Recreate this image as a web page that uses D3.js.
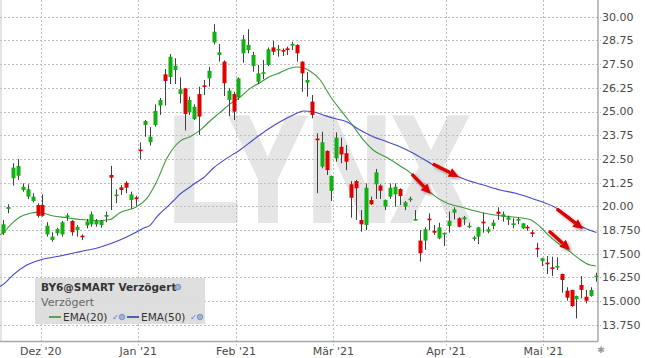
<!DOCTYPE html>
<html>
<head>
<meta charset="utf-8">
<script src="https://cdn.jsdelivr.net/npm/d3@7"></script>
<style>
  body { margin: 0; background: #fff; }
  svg { display: block; font-family: "DejaVu Sans", Verdana, sans-serif; }
</style>
</head>
<body>
<div id="chart"></div>
<script>
// daily candles (index 0 = first candle on the left)
const opens = [18.58, 19.86, 21.48, 21.61, 20.86, 20.51, 20.28, 20.07, 20.07, 18.52,
  18.22, 18.58, 18.52, 19.48, 19.23, 18.75, 18.45, 18.99, 19.05, 19.05,
  19.01, 19.45, 21.65, 20.58, 21.0, 21.24, 20.33, 20.47, 22.99, 24.29,
  23.38, 24.29, 25.31, 26.96, 26.82, 27.19, 25.92, 26.22, 24.96, 24.6,
  25.92, 26.38, 26.75, 28.64, 27.98, 27.63, 25.61, 25.92, 25.75, 28.07,
  28.24, 27.4, 26.57, 27.02, 27.45, 28.38, 28.26, 28.24, 28.33, 28.52,
  28.51, 27.63, 26.52, 25.52, 23.57, 22.09, 22.92, 20.81, 22.53, 23.14,
  22.8, 21.16, 21.33, 19.28, 19.01, 20.33, 21.16, 21.09, 19.98, 20.51,
  20.63, 20.91, 19.98, 20.37, 19.29, 18.19, 18.19, 19.35, 18.7, 18.31,
  18.56, 18.96, 19.66, 19.37, 19.31, 18.94, 18.32, 18.4, 19.19, 18.66,
  18.96, 19.72, 19.45, 19.29, 19.01, 19.24, 18.84, 18.92, 18.63, 17.81,
  17.12, 17.03, 16.78, 16.78, 16.43, 15.55, 15.59, 15.1, 15.85, 15.23,
  15.27, 16.3];
const highs = [19.28, 20.11, 22.27, 22.49, 21.21, 21.16, 20.69, 20.16, 20.63, 19.16,
  18.63, 18.87, 19.23, 19.63, 19.28, 19.01, 18.52, 19.33, 19.72, 19.33,
  19.28, 19.72, 22.13, 20.9, 21.12, 21.33, 20.77, 20.56, 23.37, 24.55,
  24.18, 25.38, 25.71, 27.24, 28.03, 27.81, 26.8, 26.24, 25.78, 25.38,
  26.31, 26.66, 27.36, 29.61, 28.56, 27.7, 26.22, 26.04, 26.8, 29.03,
  29.34, 28.15, 27.45, 27.72, 28.38, 28.73, 28.51, 28.33, 28.42, 28.68,
  28.55, 27.65, 27.08, 25.87, 23.85, 23.93, 22.95, 21.62, 23.9, 23.62,
  23.23, 21.33, 21.39, 19.8, 21.21, 20.51, 21.97, 21.16, 20.36, 21.21,
  21.21, 20.95, 20.28, 20.51, 19.8, 18.75, 18.89, 19.63, 19.01, 19.13,
  18.62, 19.72, 19.95, 19.42, 19.49, 19.13, 18.43, 18.92, 19.66, 18.92,
  19.28, 19.95, 19.72, 19.51, 19.37, 19.42, 19.12, 19.01, 18.75, 18.08,
  17.28, 17.38, 17.34, 17.31, 16.45, 15.73, 15.6, 15.29, 16.32, 15.59,
  15.73, 16.5];
const lows = [18.49, 19.63, 21.09, 21.39, 20.77, 20.38, 20.21, 19.4, 19.45, 18.4,
  18.13, 18.45, 18.4, 19.23, 18.45, 18.4, 18.22, 18.84, 18.92, 18.92,
  18.87, 19.16, 19.8, 20.16, 20.6, 20.69, 19.86, 20.03, 22.49, 23.67,
  23.2, 24.2, 24.82, 25.31, 26.45, 26.45, 25.43, 24.0, 24.82, 24.55,
  23.76, 25.87, 26.31, 28.53, 27.63, 25.82, 24.76, 24.55, 25.61, 27.57,
  28.07, 27.1, 26.45, 26.7, 27.4, 27.98, 27.89, 27.93, 27.98, 28.24,
  27.63, 26.04, 25.78, 24.64, 20.69, 22.0, 21.65, 20.28, 22.35, 22.27,
  21.91, 19.4, 19.28, 18.66, 18.75, 20.07, 20.39, 20.39, 19.8, 20.39,
  19.98, 20.07, 19.8, 20.24, 19.24, 17.08, 17.7, 18.75, 18.49, 18.26,
  17.91, 18.61, 19.31, 18.89, 19.01, 18.84, 18.18, 18.01, 18.61, 18.58,
  18.79, 19.28, 19.19, 19.01, 18.84, 19.06, 18.79, 18.71, 18.37, 17.31,
  16.85, 16.43, 16.32, 16.64, 15.44, 15.02, 14.7, 14.09, 15.15, 14.88,
  15.23, 16.02];
const closes = [19.05, 19.96, 22.04, 22.13, 21.03, 20.9, 20.51, 19.5, 19.5, 18.98,
  18.4, 18.8, 19.16, 19.52, 18.63, 18.92, 18.37, 19.2, 19.58, 19.23,
  19.23, 19.54, 21.51, 20.62, 20.86, 20.98, 20.63, 20.37, 22.95, 24.5,
  23.67, 25.03, 25.61, 26.61, 27.89, 27.42, 26.17, 24.87, 25.61, 25.25,
  24.73, 26.34, 27.15, 29.21, 28.12, 26.49, 26.1, 24.99, 26.75, 28.81,
  28.51, 27.98, 27.01, 27.07, 28.28, 28.15, 28.3, 28.18, 28.24, 28.56,
  28.07, 27.01, 26.66, 24.82, 23.53, 23.38, 21.91, 21.6, 23.62, 22.74,
  22.35, 20.45, 20.95, 19.05, 20.98, 20.11, 21.79, 20.82, 20.33, 20.98,
  21.03, 20.54, 20.21, 20.41, 19.33, 17.52, 18.79, 19.31, 18.61, 18.89,
  18.6, 19.24, 19.84, 18.92, 19.42, 18.98, 18.36, 18.89, 19.1, 18.79,
  19.14, 19.6, 19.58, 19.42, 19.1, 19.33, 19.1, 18.84, 18.54, 17.76,
  17.26, 16.94, 16.73, 16.85, 16.11, 15.18, 14.74, 15.27, 15.59, 15.02,
  15.59, 16.34];

// moving averages (position in candle index units)
const ema20Idx = [-0.7, 0, 1.4, 3.4, 5.5, 6.8, 8.2, 10.2, 12.9, 15.7, 19.7, 21.8, 23.8,
  27.2, 29.3, 31.3, 33.4, 34.7, 36.1, 38.1, 40.2, 42.2, 44.2, 46.3, 48.3, 50.4,
  52.4, 54.4, 56.5, 58.5, 59.9, 61.3, 62.6, 64.7, 66.7, 69.4, 71.5, 73.5, 75.5,
  78.3, 81, 83, 85.1, 87.1, 90.5, 93.2, 98, 101.4, 104.8, 107.5, 109.6, 111.6,
  113.7, 115.7, 117.7, 119.8, 121];
const ema20 = [18.51, 18.59, 19.01, 19.44, 19.63, 19.68, 19.63, 19.49, 19.4, 19.3, 19.24, 19.3, 19.66,
  19.98, 20.42, 21.3, 22.53, 23.06, 23.44, 23.67, 24.02, 24.5, 24.94, 25.4, 25.75, 26.22,
  26.52, 26.84, 27.05, 27.28, 27.35, 27.29, 27.14, 26.66, 25.82, 24.9, 24.2, 23.5, 22.97,
  22.57, 22.13, 21.79, 21.28, 20.75, 20.17, 19.98, 19.65, 19.5, 19.42, 19.3, 18.92, 18.4,
  17.96, 17.61, 17.2, 16.9, 16.85];
const ema50Idx = [-0.7, 0, 2, 4.8, 7.5, 11.6, 15.7, 19.7, 23.8, 26.5, 28.6, 30, 31.3, 33.4,
  34.7, 36.1, 38.1, 39.5, 40.8, 42.9, 45.6, 48.3, 51, 53.8, 56.5, 59.2, 61.3, 63.3,
  65.3, 67.4, 70.1, 72.8, 75.5, 78.3, 81, 83.7, 87.8, 91.2, 94.6, 98, 101.4, 104.8,
  108.2, 113, 115, 117.7, 121.1];
const ema50 = [15.77, 15.88, 16.38, 16.9, 17.17, 17.38, 17.61, 17.84, 18.22, 18.55, 18.84, 19.01, 19.43, 19.96,
  20.28, 20.65, 21.02, 21.28, 21.49, 22.02, 22.53, 22.97, 23.5, 24.02, 24.46, 24.82, 25.03, 24.99,
  24.82, 24.64, 24.46, 24.02, 23.67, 23.41, 23.14, 22.8, 22.18, 21.74, 21.39, 21.12, 20.86, 20.68,
  20.39, 19.89, 19.54, 18.99, 18.62];

const yTicks = [30, 28.75, 27.5, 26.25, 25, 23.75, 22.5, 21.25, 20, 18.75, 17.5, 16.25, 15, 13.75];
const yTickLabels = ["30.00", "28.75", "27.50", "26.25", "25.00", "23.75", "22.50", "21.25",
  "20.00", "18.750", "17.500", "16.250", "15.000", "13.750"];
const monthLabels = ["Dez '20", "Jan '21", "Feb '21", "Mär '21", "Apr '21", "Mai '21"];
const monthPos = [7.64, 27.56, 47.51, 67.37, 90.38, 110.25];

// red annotation arrows: [fromIndex, fromValue, toIndex, toValue]
const arrows = [[83.4, 21.7, 87.3, 20.65], [87.7, 22.23, 93.0, 21.55],
  [113.0, 19.86, 118.35, 18.8], [111.4, 18.7, 115.7, 17.7]];

class CandleChart {
  constructor(_config) {
    this.config = {
      parentElement: _config.parentElement,
      containerWidth: _config.containerWidth || 645,
      containerHeight: _config.containerHeight || 358,
      plotRight: 598,
      plotBottom: 341.5
    };
    this.data = opens.map((o, i) => ({ i: i, open: o, high: highs[i], low: lows[i], close: closes[i] }));
    this.initVis();
  }

  initVis() {
    let vis = this;
    const cfg = vis.config;

    vis.svg = d3.select(cfg.parentElement).append("svg")
      .attr("width", cfg.containerWidth)
      .attr("height", cfg.containerHeight);

    const defs = vis.svg.append("defs");
    defs.append("filter").attr("id", "shadow")
      .attr("x", "-50%").attr("y", "-50%").attr("width", "200%").attr("height", "200%")
      .append("feDropShadow")
      .attr("dx", 2).attr("dy", 2).attr("stdDeviation", 1.5)
      .attr("flood-color", "#000").attr("flood-opacity", 0.35);
    defs.append("clipPath").attr("id", "plot")
      .append("rect").attr("x", 0).attr("y", 0).attr("width", cfg.plotRight).attr("height", cfg.plotBottom);

    vis.x = d3.scaleLinear().domain([0, vis.data.length - 1]).range([3.3, 596]);
    vis.y = d3.scaleLinear().domain([13.75, 30]).range([324.8, 16.7]);

    // watermark (stroked a little to get the heavy look)
    vis.svg.append("text")
      .attr("x", 168).attr("y", 221)
      .attr("textLength", 302).attr("lengthAdjust", "spacingAndGlyphs")
      .style("font-family", "'Liberation Sans', Arial, sans-serif")
      .style("font-weight", "bold").style("font-size", "151px")
      .attr("fill", "#e5e5e5").attr("stroke", "#e5e5e5").attr("stroke-width", 4)
      .text("LYNX");

    // grid
    vis.svg.append("g").selectAll("line").data(yTicks).join("line")
      .attr("x1", 0).attr("x2", cfg.plotRight + 3)
      .attr("y1", d => Math.round(vis.y(d)) + 0.5).attr("y2", d => Math.round(vis.y(d)) + 0.5)
      .attr("stroke", "#bdbdbd").attr("stroke-dasharray", "2,2");
    vis.svg.append("g").selectAll("line").data(monthPos).join("line")
      .attr("x1", d => Math.round(vis.x(d)) + 0.5).attr("x2", d => Math.round(vis.x(d)) + 0.5)
      .attr("y1", 0).attr("y2", cfg.plotBottom + 4)
      .attr("stroke", "#bdbdbd").attr("stroke-dasharray", "2,2");

    // frame
    vis.svg.append("line").attr("x1", 1).attr("x2", 1).attr("y1", 0).attr("y2", cfg.plotBottom)
      .attr("stroke", "#c8c8c8");
    vis.svg.append("line").attr("x1", 0).attr("x2", cfg.plotRight).attr("y1", cfg.plotBottom).attr("y2", cfg.plotBottom)
      .attr("stroke", "#a8a8a8").attr("stroke-width", 1.5);
    vis.svg.append("line").attr("x1", cfg.plotRight).attr("x2", cfg.plotRight).attr("y1", 0).attr("y2", cfg.plotBottom)
      .attr("stroke", "#a8a8a8").attr("stroke-width", 1.5);

    // axis labels
    vis.svg.append("g").selectAll("text").data(yTicks).join("text")
      .attr("x", 602).attr("y", d => vis.y(d)).attr("dy", "0.36em")
      .attr("fill", "#4a4a4a").style("font-size", "11px")
      .text((d, i) => yTickLabels[i]);
    vis.svg.append("g").selectAll("text").data(monthPos).join("text")
      .attr("x", d => vis.x(d)).attr("y", 355)
      .attr("text-anchor", "middle")
      .attr("fill", "#4a4a4a").style("font-size", "11px")
      .text((d, i) => monthLabels[i]);
    vis.svg.append("text").attr("x", 601).attr("y", 353).attr("text-anchor", "middle")
      .attr("fill", "#999").style("font-size", "9px").text("✱");

    const plot = vis.svg.append("g").attr("clip-path", "url(#plot)");

    // moving averages
    const line = d3.line().curve(d3.curveMonotoneX)
      .x(d => vis.x(d[0])).y(d => vis.y(d[1]));
    plot.append("path").datum(ema50Idx.map((d, i) => [d, ema50[i]]))
      .attr("d", line).attr("fill", "none").attr("stroke", "#4848c8").attr("stroke-width", 1.1);
    plot.append("path").datum(ema20Idx.map((d, i) => [d, ema20[i]]))
      .attr("d", line).attr("fill", "none").attr("stroke", "#3f9a3f").attr("stroke-width", 1.1);

    // candles
    const candles = plot.append("g").selectAll("g").data(vis.data).join("g");
    candles.append("line")
      .attr("x1", d => Math.round(vis.x(d.i)) + 0.5).attr("x2", d => Math.round(vis.x(d.i)) + 0.5)
      .attr("y1", d => vis.y(d.high)).attr("y2", d => vis.y(d.low))
      .attr("stroke", "#404040").attr("stroke-width", 1);
    candles.append("rect")
      .attr("x", d => Math.round(vis.x(d.i)) - 1.5)
      .attr("width", 4)
      .attr("y", d => vis.y(Math.max(d.open, d.close)))
      .attr("height", d => Math.max(1.6, Math.abs(vis.y(d.open) - vis.y(d.close))))
      .attr("fill", d => d.close >= d.open ? "#12b012" : "#e00000");

    // annotation arrows
    const ag = vis.svg.append("g").attr("filter", "url(#shadow)");
    arrows.forEach(a => {
      const x0 = vis.x(a[0]), y0 = vis.y(a[1]), x1 = vis.x(a[2]), y1 = vis.y(a[3]);
      const ang = Math.atan2(y1 - y0, x1 - x0);
      const hl = 10, hw = 4.8;
      const bx = x1 - hl * Math.cos(ang), by = y1 - hl * Math.sin(ang);
      ag.append("line").attr("x1", x0).attr("y1", y0).attr("x2", bx).attr("y2", by)
        .attr("stroke", "#dd0000").attr("stroke-width", 3.4);
      ag.append("path")
        .attr("d", `M${x1},${y1}L${bx - hw * Math.sin(ang)},${by + hw * Math.cos(ang)}` +
          `L${bx + hw * Math.sin(ang)},${by - hw * Math.cos(ang)}Z`)
        .attr("fill", "#dd0000");
    });

    // legend
    const lg = vis.svg.append("g");
    lg.append("rect").attr("x", 35).attr("y", 278).attr("width", 170).attr("height", 46)
      .attr("fill", "#dcdcdc").attr("opacity", 0.95);
    lg.append("text").attr("x", 41).attr("y", 291)
      .style("font-size", "10.5px").style("font-weight", "bold").attr("fill", "#333")
      .text("BY6@SMART Verzögert");
    lg.append("text").attr("x", 41).attr("y", 306)
      .style("font-size", "11px").attr("fill", "#666").text("Verzögert");
    const globe = (cx, cy) => lg.append("circle").attr("cx", cx).attr("cy", cy).attr("r", 2.8)
      .attr("fill", "#9fb3d6").attr("stroke", "#6d87b8").attr("stroke-width", 0.8);
    globe(178, 287);
    const items = [
      { x: 49, color: "#2e8b2e", label: "EMA(20)" },
      { x: 127, color: "#2b2bb0", label: "EMA(50)" }
    ];
    items.forEach(it => {
      lg.append("line").attr("x1", it.x).attr("x2", it.x + 12).attr("y1", 317).attr("y2", 317)
        .attr("stroke", it.color).attr("stroke-width", 1.5);
      lg.append("text").attr("x", it.x + 14).attr("y", 320.5)
        .style("font-size", "10.5px").attr("fill", "#333").text(it.label);
      lg.append("text").attr("x", it.x + 63).attr("y", 320)
        .style("font-size", "8px").attr("fill", "#3f7fd0").text("✓");
      globe(it.x + 73, 317);
    });
  }
}

const chart = new CandleChart({ parentElement: "#chart" });
</script>
</body>
</html>
